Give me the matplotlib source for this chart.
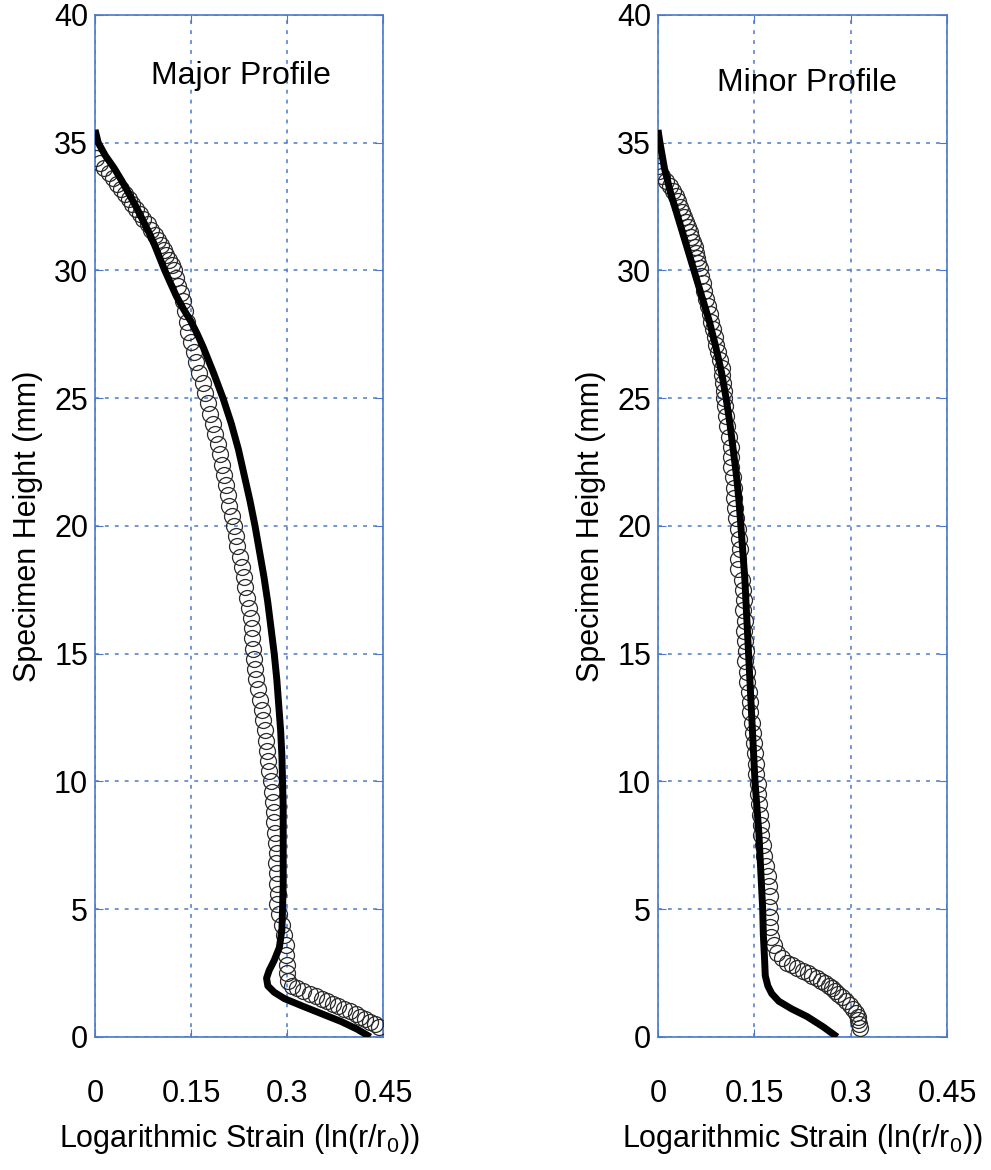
import matplotlib
matplotlib.use('Agg')
import matplotlib.pyplot as plt

plt.rcParams['font.family'] = ['Liberation Sans', 'DejaVu Sans']
plt.rcParams['mathtext.fontset'] = 'custom'
plt.rcParams['mathtext.rm'] = 'Liberation Sans'
plt.rcParams['mathtext.it'] = 'Liberation Sans'

# ---- data ----
# model curves (solid line)
major_line_y = [35.5, 35.0, 34.5, 34.0, 33.5, 33.0, 32.5, 32.0, 31.5, 31.0, 30.5, 30.0,
                29.5, 29.0, 28.5, 28.0, 27.5, 27.0, 26.5, 26.0, 25.0, 24.0, 23.0, 22.0,
                21.0, 20.0, 19.0, 18.0, 17.0, 16.0, 15.0, 14.0, 13.0, 12.0, 11.0, 10.0,
                9.0, 7.5, 6.0, 5.0, 4.2, 3.5, 3.0, 2.6, 2.3, 2.0, 1.75, 1.5,
                1.2, 0.9, 0.6, 0.3, 0.0]
major_line_x = [0.000, 0.005, 0.016, 0.030, 0.042, 0.053, 0.064, 0.074, 0.084, 0.093, 0.101, 0.109,
                0.118, 0.127, 0.138, 0.150, 0.160, 0.169, 0.177, 0.185, 0.200, 0.213, 0.224, 0.233,
                0.242, 0.250, 0.257, 0.264, 0.270, 0.275, 0.280, 0.284, 0.287, 0.290, 0.292, 0.293,
                0.294, 0.294, 0.294, 0.293, 0.292, 0.288, 0.280, 0.272, 0.268, 0.270, 0.280, 0.296,
                0.325, 0.355, 0.385, 0.410, 0.430]

minor_line_y = [35.5, 35.0, 34.0, 33.0, 32.0, 31.0, 30.0, 29.0, 28.0, 27.0, 26.0, 25.0,
                24.0, 23.0, 22.0, 21.0, 20.0, 19.0, 18.0, 17.0, 16.0, 15.0, 14.0, 13.0,
                12.0, 11.0, 10.0, 9.0, 8.0, 7.0, 6.0, 5.0, 4.0, 3.0, 2.4, 2.0,
                1.7, 1.4, 1.1, 0.8, 0.4, 0.0]
minor_line_x = [0.000, 0.003, 0.010, 0.020, 0.032, 0.044, 0.056, 0.068, 0.080, 0.090, 0.099, 0.106,
                0.112, 0.117, 0.122, 0.126, 0.129, 0.132, 0.135, 0.137, 0.139, 0.141, 0.143, 0.145,
                0.147, 0.149, 0.151, 0.154, 0.157, 0.159, 0.161, 0.163, 0.164, 0.166, 0.167, 0.171,
                0.177, 0.188, 0.208, 0.232, 0.257, 0.279]

# measured profiles (open circles)
major_pts_y = [34.4, 34.2, 34.0, 33.8, 33.6, 33.4, 33.2, 33.0, 32.8, 32.6, 32.4, 32.2,
               32.0, 31.8, 31.6, 31.4, 31.2, 31.0, 30.8, 30.6, 30.4, 30.2, 30.0, 29.7,
               29.4, 29.1, 28.8, 28.4, 28.0, 27.6, 27.2, 26.8, 26.4, 26.0, 25.6, 25.2,
               24.8, 24.4, 24.0, 23.6, 23.2, 22.8, 22.4, 22.0, 21.6, 21.2, 20.8, 20.4,
               20.0, 19.6, 19.2, 18.8, 18.4, 18.0, 17.6, 17.2, 16.8, 16.4, 16.0, 15.6,
               15.2, 14.8, 14.4, 14.0, 13.6, 13.2, 12.8, 12.4, 12.0, 11.6, 11.2, 10.8,
               10.4, 10.0, 9.6, 9.2, 8.8, 8.4, 8.0, 7.6, 7.2, 6.8, 6.4, 6.0,
               5.6, 5.2, 4.8, 4.4, 4.0, 3.6, 3.2, 2.8, 2.5, 2.2, 2.0, 1.9,
               1.8, 1.7, 1.6, 1.5, 1.4, 1.3, 1.2, 1.1, 1.0, 0.9, 0.8, 0.7,
               0.6, 0.5, 0.4]
major_pts_x = [0.002, 0.008, 0.014, 0.022, 0.028, 0.034, 0.040, 0.047, 0.053, 0.058, 0.064, 0.070,
               0.075, 0.082, 0.088, 0.094, 0.099, 0.103, 0.107, 0.111, 0.116, 0.121, 0.124, 0.127,
               0.130, 0.134, 0.138, 0.141, 0.144, 0.146, 0.150, 0.154, 0.158, 0.162, 0.168, 0.172,
               0.176, 0.180, 0.184, 0.188, 0.192, 0.195, 0.198, 0.201, 0.204, 0.207, 0.210, 0.214,
               0.217, 0.220, 0.222, 0.226, 0.229, 0.232, 0.235, 0.238, 0.240, 0.243, 0.245, 0.246,
               0.247, 0.248, 0.250, 0.252, 0.255, 0.258, 0.261, 0.263, 0.265, 0.267, 0.268, 0.270,
               0.272, 0.275, 0.276, 0.278, 0.279, 0.280, 0.281, 0.282, 0.284, 0.283, 0.284, 0.285,
               0.286, 0.284, 0.288, 0.292, 0.296, 0.298, 0.299, 0.300, 0.300, 0.302, 0.308, 0.316,
               0.325, 0.336, 0.346, 0.355, 0.363, 0.372, 0.380, 0.389, 0.398, 0.407, 0.414, 0.422,
               0.430, 0.438, 0.444]

minor_pts_y = [34.1, 33.9, 33.7, 33.5, 33.3, 33.1, 32.9, 32.7, 32.5, 32.3, 32.1, 31.9,
               31.7, 31.5, 31.3, 31.1, 30.9, 30.7, 30.5, 30.3, 30.1, 29.8, 29.5, 29.2,
               28.9, 28.6, 28.3, 28.0, 27.7, 27.4, 27.1, 26.8, 26.5, 26.2, 25.9, 25.6,
               25.3, 25.0, 24.7, 24.3, 23.9, 23.5, 23.1, 22.7, 22.3, 21.9, 21.5, 21.1,
               20.7, 20.3, 19.9, 19.5, 19.1, 18.7, 18.3, 17.9, 17.5, 17.1, 16.7, 16.3,
               15.9, 15.5, 15.1, 14.7, 14.3, 13.9, 13.5, 13.1, 12.7, 12.3, 11.9, 11.5,
               11.1, 10.7, 10.3, 9.9, 9.5, 9.1, 8.7, 8.3, 7.9, 7.5, 7.1, 6.7,
               6.3, 5.9, 5.5, 5.1, 4.7, 4.3, 3.9, 3.6, 3.3, 3.1, 2.9, 2.8,
               2.7, 2.6, 2.5, 2.4, 2.3, 2.2, 2.1, 2.0, 1.9, 1.8, 1.7, 1.55,
               1.4, 1.25, 1.1, 0.95, 0.8, 0.65, 0.5, 0.35]
minor_pts_x = [0.000, 0.002, 0.006, 0.012, 0.018, 0.023, 0.028, 0.031, 0.034, 0.037, 0.040, 0.043,
               0.046, 0.050, 0.052, 0.055, 0.057, 0.059, 0.061, 0.063, 0.065, 0.067, 0.070, 0.072,
               0.075, 0.078, 0.081, 0.083, 0.085, 0.088, 0.090, 0.093, 0.096, 0.099, 0.100, 0.101,
               0.102, 0.103, 0.104, 0.106, 0.108, 0.111, 0.114, 0.113, 0.114, 0.117, 0.118, 0.119,
               0.120, 0.122, 0.125, 0.126, 0.127, 0.125, 0.124, 0.130, 0.132, 0.134, 0.133, 0.135,
               0.134, 0.136, 0.137, 0.136, 0.138, 0.139, 0.141, 0.143, 0.144, 0.146, 0.148, 0.149,
               0.151, 0.152, 0.153, 0.155, 0.156, 0.158, 0.159, 0.160, 0.161, 0.163, 0.165, 0.168,
               0.171, 0.173, 0.174, 0.173, 0.174, 0.174, 0.176, 0.180, 0.186, 0.193, 0.201, 0.209,
               0.217, 0.225, 0.233, 0.240, 0.247, 0.254, 0.260, 0.266, 0.271, 0.276, 0.281, 0.287,
               0.293, 0.299, 0.304, 0.308, 0.311, 0.312, 0.313, 0.314]

xticks = [0, 0.15, 0.3, 0.45]
xtick_labels = ['0', '0.15', '0.3', '0.45']
yticks = [0, 5, 10, 15, 20, 25, 30, 35, 40]
titles = ['Major Profile', 'Minor Profile']

blue = '#4a78cc'

fig = plt.figure(figsize=(9.91, 11.7), dpi=100)
ax1 = fig.add_axes([0.0959, 0.1137, 0.2906, 0.8735])
ax2 = fig.add_axes([0.664, 0.1137, 0.2916, 0.8735])

panels = [(ax1, major_pts_x, major_pts_y, major_line_x, major_line_y, titles[0], 0.228, 37.6),
          (ax2, minor_pts_x, minor_pts_y, minor_line_x, minor_line_y, titles[1], 0.232, 37.35)]

for ax, px, py, lx, ly, title, tx, ty in panels:
    ax.plot(px, py, 'o', mfc='none', mec='#2a2a2a', ms=11.5, mew=0.9, zorder=3)
    ax.plot(lx, ly, '-', color='black', lw=5, solid_joinstyle='round',
            solid_capstyle='butt', zorder=4)
    ax.set_xlim(0, 0.45)
    ax.set_ylim(0, 40)
    ax.set_xticks(xticks)
    ax.set_xticklabels(xtick_labels)
    ax.set_yticks(yticks)
    ax.grid(True, color=blue, linestyle=(0, (2.5, 4)), linewidth=1.1)
    for s in ax.spines.values():
        s.set_color(blue)
        s.set_linewidth(1.2)
    ax.tick_params(direction='in', length=6, color=blue, top=True, right=True,
                   labelsize=22)
    ax.tick_params(axis='x', pad=30)
    ax.tick_params(axis='y', pad=5)
    ax.text(tx, ty, title, ha='center', va='center', fontsize=23)
    ax.set_xlabel(r'Logarithmic Strain (ln(r/r$_0$))', fontsize=22)
    ax.xaxis.set_label_coords(0.5, -0.083)
    ax.set_ylabel('Specimen Height (mm)', fontsize=22)
    ax.yaxis.set_label_coords(-0.18, 0.5)

fig.savefig('out.png', dpi=100)
